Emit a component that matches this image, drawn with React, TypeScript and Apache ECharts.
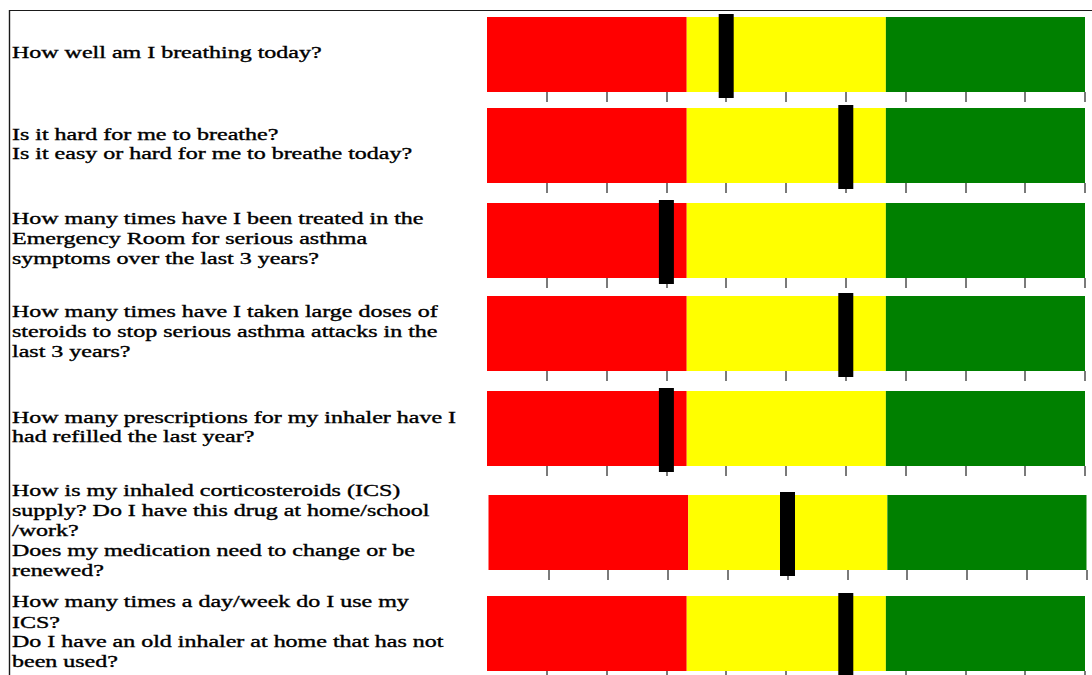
import React, { useEffect, useRef } from "react";
import * as echarts from "echarts";

const questions = [
  "How well am I breathing today?",
  "Is it hard for me to breathe?\nIs it easy or hard for me to breathe today?",
  "How many times have I been treated in the\nEmergency Room for serious asthma\nsymptoms over the last 3 years?",
  "How many times have I taken large doses of\nsteroids to stop serious asthma attacks in the\nlast 3 years?",
  "How many prescriptions for my inhaler have I\nhad refilled the last year?",
  "How is my inhaled corticosteroids (ICS)\nsupply? Do I have this drug at home/school\n/work?\nDoes my medication need to change or be\nrenewed?",
  "How many times a day/week do I use my\nICS?\nDo I have an old inhaler at home that has not\nbeen used?",
];
const scores = [4, 6, 3, 6, 3, 5, 6];
const zoneWidths = [3.34, 3.33, 3.33];
const zoneColors = ["#ff0000", "#ffff00", "#008000"];
const tickValues = [1, 2, 3, 4, 5, 6, 7, 8, 9, 10];

// layout
const barTops = [17, 108, 203, 296, 391, 495, 596];
const rowLefts = [487, 487, 487, 487, 487, 488.5, 487];
const BAR_W = 598;
const BAR_H = 75;

export default function App() {
  const ref = useRef<HTMLDivElement>(null);
  useEffect(() => {
    if (!ref.current) return;
    const chart = echarts.init(ref.current, null, { renderer: "svg" });
    const grid: any[] = [];
    const xAxis: any[] = [];
    const yAxis: any[] = [];
    const series: any[] = [];
    questions.forEach((_, i) => {
      grid.push({ left: rowLefts[i], top: barTops[i], width: BAR_W, height: BAR_H });
      xAxis.push({
        type: "value",
        gridIndex: i,
        min: 0,
        max: 10,
        interval: 1,
        axisLine: { show: false },
        axisLabel: { show: false },
        splitLine: { show: false },
        axisTick: {
          show: true,
          inside: false,
          length: 10,
          customValues: tickValues,
          lineStyle: { color: "#7a7a7a", width: 2 },
        },
      });
      yAxis.push({ type: "category", gridIndex: i, data: [""], show: false });
      zoneWidths.forEach((w, k) => {
        series.push({
          type: "bar",
          xAxisIndex: i,
          yAxisIndex: i,
          stack: "row" + i,
          data: [w],
          barWidth: "100%",
          itemStyle: { color: zoneColors[k] },
          silent: true,
          z: 2,
        });
      });
      series.push({
        type: "scatter",
        xAxisIndex: i,
        yAxisIndex: i,
        data: [[scores[i], 0]],
        symbol: "rect",
        symbolSize: [15, 84],
        symbolOffset: [0, 1.5],
        itemStyle: { color: "#000000", opacity: 1 },
        silent: true,
        z: 5,
      });
    });
    const texts = questions.map((q, i) => ({
      type: "text",
      x: 12,
      y: barTops[i] + 36,
      scaleX: 1.5,
      style: {
        text: q,
        font: '16px "Liberation Serif"',
        fill: "#000000",
        stroke: "#000000",
        lineWidth: 0.35,
        lineHeight: 20,
        align: "left",
        verticalAlign: "middle",
      },
    }));
    chart.setOption({
      animation: false,
      backgroundColor: "#ffffff",
      grid,
      xAxis,
      yAxis,
      series,
      graphic: [
        ...texts,
        {
          type: "line",
          shape: { x1: 9.5, y1: 10.5, x2: 1092, y2: 10.5 },
          style: { stroke: "#1a1a1a", lineWidth: 1.2 },
        },
        {
          type: "line",
          shape: { x1: 9.5, y1: 10, x2: 9.5, y2: 675 },
          style: { stroke: "#1a1a1a", lineWidth: 1.4 },
        },
      ],
    });
    return () => chart.dispose();
  }, []);
  return (
    <div
      ref={ref}
      style={{ position: "fixed", left: 0, top: 0, width: 1092, height: 675 }}
    />
  );
}
